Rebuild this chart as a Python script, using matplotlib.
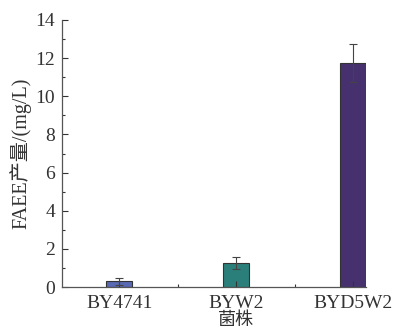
import matplotlib
matplotlib.use("Agg")
import matplotlib.pyplot as plt
from matplotlib.ticker import MultipleLocator, FixedLocator
import numpy as np

strains = ["BY4741", "BYW2", "BYD5W2"]
faee = [0.30, 1.24, 11.73]
err = [0.18, 0.32, 1.0]
colors = ["#5a69b3", "#2a7f7a", "#46306e"]

plt.rcParams['font.family'] = ['Liberation Serif', 'Noto Sans CJK SC']

fig = plt.figure(figsize=(3.97, 3.30), dpi=100)
ax = fig.add_axes([62/397, 1-287/330, (366-62)/397, (287-20)/330])
x = np.arange(len(strains))
ax.bar(x, faee, width=0.22, color=colors, edgecolor="#333333", linewidth=0.8,
       yerr=err, error_kw=dict(ecolor="#444444", elinewidth=0.8, capsize=3, capthick=0.8))
ax.set_xlim(-0.49, 2.11)
ax.set_ylim(0, 14)
ax.yaxis.set_major_locator(MultipleLocator(2))
ax.yaxis.set_minor_locator(MultipleLocator(1))
ax.set_xticks(x)
ax.set_xticklabels(strains)
ax.xaxis.set_minor_locator(FixedLocator([0.5, 1.5]))
ax.tick_params(axis='both', which='both', direction='in', labelsize=14, colors='#333333')
ax.tick_params(axis='both', which='major', length=4, width=0.8)
ax.tick_params(axis='both', which='minor', length=2.5, width=0.8)
ax.tick_params(axis='x', pad=6)
ax.tick_params(axis='y', pad=5)
for s in ['top', 'right']:
    ax.spines[s].set_visible(False)
for s in ['left', 'bottom']:
    ax.spines[s].set_color('#555555')
    ax.spines[s].set_linewidth(0.9)
ax.set_ylabel("FAEE产量/(mg/L)", fontsize=14.5, color='#333333')
ax.yaxis.set_label_coords(-0.1, 0.5)
ax.set_xlabel("菌株", fontsize=13, color='#333333')
ax.xaxis.set_label_coords(0.572, -0.095)
fig.savefig("out.png", dpi=100)
